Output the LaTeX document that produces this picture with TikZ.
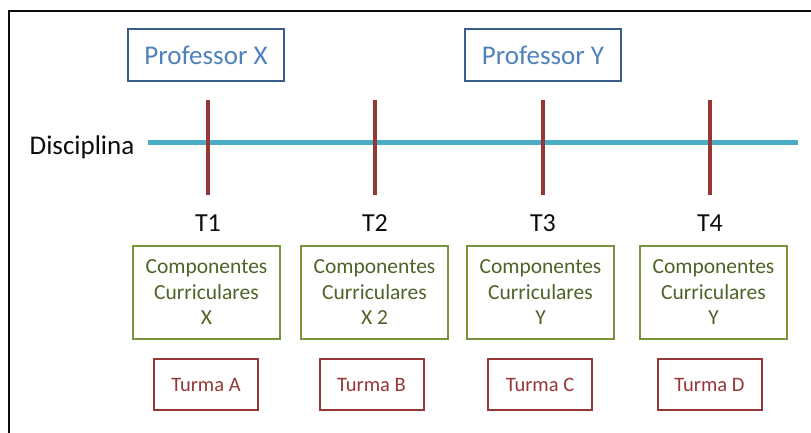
\documentclass[tikz,border=0pt]{standalone}
\usepackage{fontspec}
\setmainfont{Carlito}
\usepackage{tikz}
\usetikzlibrary{positioning}
\definecolor{profblue}{HTML}{385D8A}
\definecolor{proftext}{HTML}{4F81BD}
\definecolor{disccyan}{HTML}{4BACC6}
\definecolor{tickred}{HTML}{953735}
\definecolor{compgreen}{HTML}{77933C}
\definecolor{comptext}{HTML}{4F6228}
\definecolor{ink}{HTML}{0D0D0D}

\begin{document}
\begin{tikzpicture}[x=1pt,y=-1pt,line cap=butt,line join=miter,
  profbox/.style={draw=profblue,line width=2pt,text=proftext,font=\fontsize{27}{30}\selectfont,
    minimum width=156pt,minimum height=52pt,inner sep=0pt},
  compbox/.style={draw=compgreen,line width=2pt,text=comptext,font=\fontsize{21.5}{25.5}\selectfont,
    align=center,minimum width=147pt,minimum height=93pt,inner sep=0pt},
  turmabox/.style={draw=tickred,line width=2pt,text=tickred,font=\fontsize{20.5}{22}\selectfont,
    minimum width=104pt,minimum height=51pt,inner sep=0pt},
  tlabel/.style={text=ink,font=\fontsize{26}{28}\selectfont,inner sep=0pt},
  tick/.style={draw=tickred,line width=4pt}]
  \useasboundingbox (0,0) rectangle (811,433);
  \draw[line width=2pt,ink] (9,433)--(9,11)--(811,11);
  \node[profbox] (profX) at (206,55) {Professor X};
  \node[profbox] (profY) at (543,55) {Professor Y};
  \node[text=ink,font=\fontsize{27}{30}\selectfont,inner sep=0pt] (disc) at (82,147) {Disciplina};
  \coordinate (discA) at (148,143);
  \coordinate (discB) at (798,143);
  \draw[disccyan,line width=5pt] (discA)--(discB);
  \foreach \i/\x in {1/208,2/375,3/543,4/710}{
    \coordinate (top\i) at (\x,100);
    \coordinate (bot\i) at (\x,195);
    \draw[tick] (top\i)--(bot\i);
    \node[tlabel] (t\i) at (\x,223) {T\i};
  }
  \foreach \i/\x/\lab in {1/206.5/X,2/374.5/X 2,3/540.5/Y,4/713.5/Y}{
    \node[compbox] (comp\i) at (\x,292.5) {Componentes\\Curriculares\\\lab};
  }
  \foreach \i/\x/\lab in {1/206/A,2/371.5/B,3/540/C,4/709.5/D}{
    \node[turmabox] (turma\i) at (\x,384.5) {Turma \lab};
  }
\end{tikzpicture}
\end{document}
